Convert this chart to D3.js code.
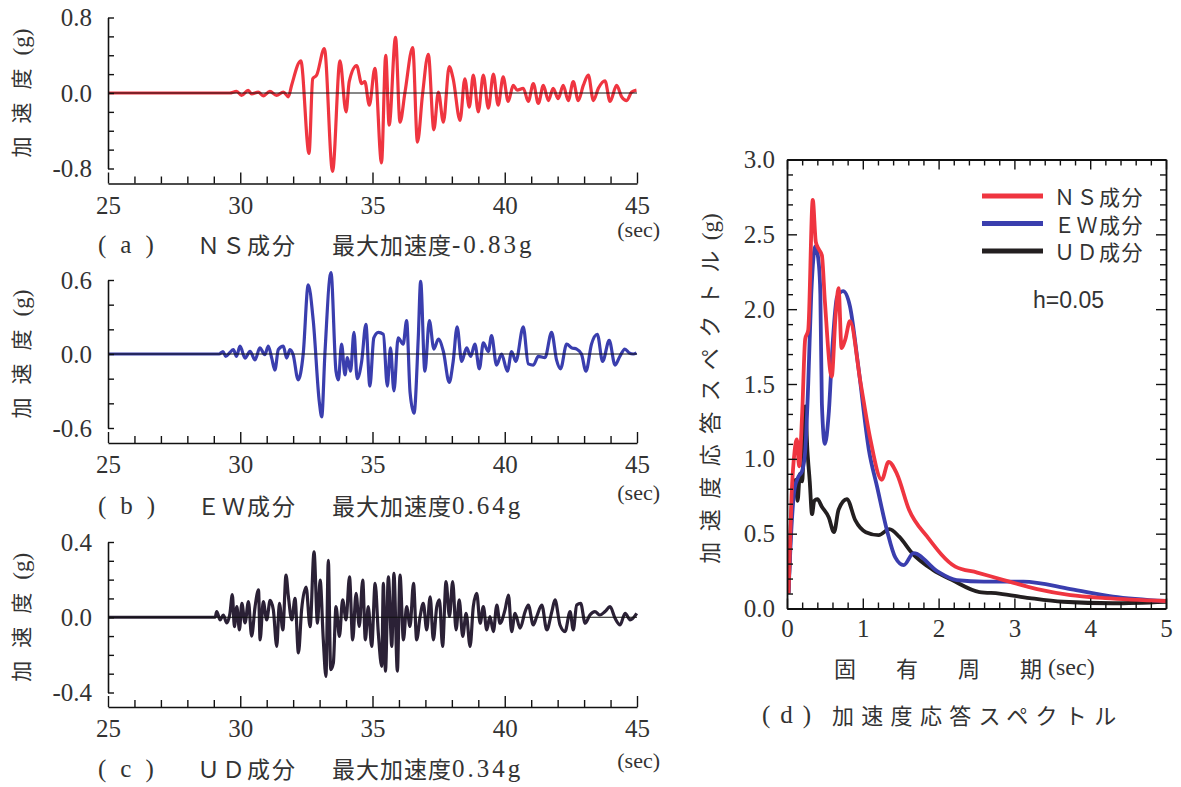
<!DOCTYPE html>
<html><head><meta charset="utf-8">
<script src="https://cdn.jsdelivr.net/npm/d3@7"></script>
<style>body{margin:0;background:#fff}svg{display:block}</style>
</head><body><svg id="c" width="1181" height="787"></svg>
<script>
// ---------- DATA ----------
const timeTicks = [25, 30, 35, 40, 45];
const nsT = [25,29.6,29.86,30.05,30.30,30.43,30.68,30.87,31.12,31.37,31.63,31.82,31.94,32.29,32.60,32.74,32.89,33.18,33.49,33.77,34.0,34.12,34.40,34.59,34.71,34.88,35.09,35.34,35.50,35.63,35.87,36.04,36.23,36.52,36.70,36.89,37.11,37.32,37.49,37.68,37.90,38.05,38.31,38.49,38.66,38.81,39.0,39.19,39.38,39.57,39.75,39.94,40.13,40.32,40.47,40.70,40.89,41.08,41.27,41.46,41.65,41.83,42.02,42.21,42.40,42.59,42.78,42.97,43.16,43.35,43.54,43.79,43.98,44.23,44.42,44.61,44.80,44.98];
const nsA = [0,0,0.018,-0.025,0.028,-0.01,0.01,-0.03,0.018,-0.025,0.01,-0.04,0.08,0.34,-0.64,0.15,0.19,0.47,-0.83,0.34,-0.20,0.12,0.29,0.10,0.12,-0.13,0.26,-0.74,0.40,-0.34,0.59,-0.31,0.01,0.48,-0.52,-0.02,0.41,-0.39,0.01,-0.31,0.28,0.15,-0.29,0.15,-0.15,0.19,-0.2,0.19,-0.16,0.2,-0.13,0.17,-0.09,0.08,0.03,0.05,-0.09,0.1,-0.11,0.08,-0.08,0.05,-0.06,0.08,-0.08,0.12,-0.08,0.08,0.19,-0.08,0.05,0.13,-0.09,0.08,-0.04,-0.08,0.01,0.03];

const ewT = [25,29.2,29.35,29.45,29.6,29.74,29.86,29.99,30.18,30.37,30.56,30.74,30.93,31.06,31.19,31.31,31.44,31.63,31.75,31.88,32.0,32.19,32.38,32.57,32.76,32.99,33.08,33.2,33.43,33.62,33.71,33.83,33.96,34.05,34.17,34.3,34.42,34.59,34.75,34.9,35.05,35.22,35.41,35.56,35.68,35.81,35.97,36.16,36.29,36.42,36.57,36.73,36.82,36.98,37.15,37.32,37.49,37.68,37.9,38.05,38.2,38.37,38.56,38.71,38.87,39.04,39.19,39.38,39.5,39.69,39.88,40.1,40.26,40.42,40.7,40.89,41.08,41.27,41.52,41.77,41.96,42.11,42.34,42.53,42.72,42.9,43.07,43.28,43.5,43.7,43.95,44.17,44.35,44.54,44.7,44.86,44.98];
const ewA = [0,0,0.02,-0.02,0.01,0.036,-0.019,0.064,-0.033,0.022,-0.047,0.05,-0.006,0.064,-0.033,-0.13,0.036,0.064,-0.033,0.036,-0.006,-0.21,0,0.56,0.27,-0.39,-0.51,0,0.66,-0.14,-0.21,0.08,-0.17,-0.03,-0.14,0.175,-0.2,-0.06,0.24,-0.26,0.13,0.175,0.16,-0.26,0.05,-0.30,0.13,0.08,0.27,-0.31,-0.48,0.13,0.59,-0.14,0.27,0.04,0.12,0.02,-0.23,-0.06,0.22,-0.06,0.05,-0.02,0.08,-0.12,0.09,0.02,0.15,-0.09,0,-0.14,0.02,-0.06,0.22,-0.08,-0.09,-0.02,-0.03,0.175,-0.05,-0.12,0.08,0.05,0.04,0,-0.14,0.08,0.16,-0.06,0.11,-0.09,-0.02,0.04,0.01,0,0.01];

const udT = [25,29.05,29.11,29.24,29.36,29.49,29.61,29.70,29.78,29.87,29.97,30.06,30.18,30.31,30.43,30.56,30.69,30.75,30.87,31.0,31.13,31.25,31.38,31.48,31.61,31.73,31.82,31.95,32.07,32.20,32.32,32.49,32.64,32.79,32.92,33.02,33.14,33.24,33.33,33.42,33.52,33.62,33.75,33.87,34.0,34.13,34.25,34.38,34.50,34.63,34.73,34.84,34.97,35.10,35.22,35.35,35.41,35.49,35.60,35.73,35.81,35.94,36.04,36.17,36.29,36.42,36.55,36.67,36.80,36.92,37.05,37.18,37.30,37.43,37.53,37.65,37.78,37.91,38.03,38.16,38.28,38.41,38.54,38.69,38.81,38.94,39.07,39.19,39.32,39.44,39.57,39.70,39.82,40.01,40.14,40.26,40.39,40.58,40.77,40.89,41.08,41.21,41.40,41.59,41.78,41.90,42.09,42.28,42.47,42.59,42.72,42.87,43.04,43.22,43.41,43.60,43.79,43.98,44.17,44.36,44.55,44.74,44.99];
const udA = [0,0,0.03,-0.014,0.012,-0.03,0.02,0.12,-0.05,0.056,-0.067,0.074,-0.03,0.083,-0.10,0.056,0.145,-0.12,0.083,-0.014,0.09,0.04,-0.155,0.074,-0.067,0.224,0.11,-0.014,0.10,-0.19,0.04,0.16,-0.05,0.347,-0.032,0.198,-0.12,-0.314,0.303,-0.279,-0.243,0.056,-0.102,0.092,-0.014,0.215,-0.12,0.127,-0.049,0.198,-0.12,0.056,-0.155,0.18,-0.085,-0.261,0.18,-0.287,0.215,-0.155,0.233,-0.287,0.224,-0.12,0.056,-0.049,0.18,-0.12,0.004,0.074,-0.067,0.109,-0.12,0.056,0.092,-0.155,0.189,0.004,0.189,-0.067,0.092,-0.102,0.021,-0.155,0.056,0.127,-0.032,0.056,-0.067,0.004,-0.076,0.065,-0.032,0.039,0.118,-0.076,0.021,-0.058,0.03,0.065,-0.041,0.004,0.065,-0.067,0.03,0.092,-0.041,-0.076,0.03,-0.067,0.065,0.074,-0.032,0.012,0.03,0.012,0.03,0.056,-0.005,-0.041,0.021,-0.014,0.021];

const periodTicks = [0, 1, 2, 3, 4, 5];
const saTicks = [0.0, 0.5, 1.0, 1.5, 2.0, 2.5, 3.0];
const nsPer = [0.02,0.06,0.1,0.13,0.16,0.2,0.24,0.28,0.34,0.38,0.42,0.46,0.5,0.59,0.64,0.68,0.72,0.77,0.83,0.97,1.1,1.25,1.34,1.45,1.61,1.85,2.22,2.51,2.86,3.3,3.74,4.2,5.0];
const nsSa  = [0.1,0.75,1.05,1.13,0.95,1.3,1.8,1.86,2.73,2.45,2.4,2.36,2.05,1.55,1.95,2.14,1.74,1.8,1.92,1.51,1.13,0.86,0.98,0.9,0.66,0.48,0.28,0.24,0.19,0.13,0.09,0.07,0.05];
const ewPer = [0.02,0.06,0.1,0.15,0.2,0.24,0.28,0.32,0.375,0.42,0.44,0.46,0.5,0.55,0.6,0.66,0.74,0.83,0.94,1.08,1.19,1.32,1.43,1.54,1.67,1.98,2.24,2.6,3.12,3.74,4.3,5.0];
const ewSa  = [0.1,0.55,0.8,0.88,0.92,1.05,1.5,2.1,2.42,2.3,2.1,1.37,1.1,1.3,1.75,2.08,2.12,2.02,1.62,1.06,0.81,0.52,0.34,0.29,0.37,0.25,0.19,0.18,0.18,0.13,0.08,0.05];
const udPer = [0.02,0.05,0.08,0.11,0.14,0.17,0.2,0.24,0.27,0.3,0.33,0.36,0.4,0.46,0.55,0.62,0.68,0.79,0.9,1.04,1.21,1.35,1.48,1.65,1.92,2.18,2.54,2.8,3.2,3.64,4.3,5.0];
const udSa  = [0.1,0.55,0.8,0.86,0.72,0.9,0.85,1.35,1.05,0.85,0.63,0.72,0.73,0.68,0.61,0.51,0.66,0.73,0.59,0.51,0.49,0.53,0.48,0.37,0.26,0.19,0.11,0.1,0.07,0.045,0.035,0.045];

const legendNames = ["ＮＳ成分", "ＥＷ成分", "ＵＤ成分"];

// ---------- STYLE ----------
const RED = "#ef3540", BLUE = "#3a3eae", DARK = "#2b2136", BLACK = "#231f20";
const SERIF = "'Liberation Serif', 'DejaVu Serif', serif";
const CJK = "'Noto Sans CJK JP', sans-serif";
const svg = d3.select("#c");
const zip = (a, b) => a.map((v, i) => [v, b[i]]);

// ---------- TIME HISTORY PANELS ----------
const xT = d3.scaleLinear().domain([25, 45]).range([108, 637]);

function timePanel(o) {
  const y = d3.scaleLinear().domain([-o.max, o.max]).range([o.yBot, o.yTop]);
  const g = svg.append("g");
  g.append("path").datum(zip(o.t, o.a))
    .attr("fill", "none").attr("stroke", o.color).attr("stroke-width", 3.2)
    .attr("stroke-linejoin", "round")
    .attr("d", d3.line().curve(d3.curveMonotoneX).x(d => xT(d[0])).y(d => y(d[1])));
  g.append("line").attr("x1", xT(25)).attr("x2", xT(45)).attr("y1", y(0)).attr("y2", y(0))
    .attr("stroke", "#111").attr("stroke-width", 1);
  const ya = g.append("g").attr("transform", `translate(${xT(25)},0)`)
    .call(d3.axisLeft(y).tickValues(d3.range(-o.max, o.max + 1e-9, o.step)).tickSize(-6).tickSizeOuter(0)
      .tickPadding(16).tickFormat(d => (Math.abs(d) < 1e-9 || Math.abs(Math.abs(d) - o.max) < 1e-9) ? (Math.abs(d) < 1e-9 ? "0.0" : (d < 0 ? "-" : "") + d3.format(".1f")(Math.abs(d))) : ""));
  const xa = g.append("g").attr("transform", `translate(0,${o.axisY})`)
    .call(d3.axisBottom(xT).tickValues(d3.range(25, 46, 1)).tickSize(-7).tickSizeOuter(0)
      .tickPadding(12).tickFormat(d => timeTicks.includes(d) ? d : ""));
  xa.selectAll(".tick line").filter(d => timeTicks.includes(d)).attr("y2", -11);
  [ya, xa].forEach(a => {
    a.select(".domain").attr("stroke", "#111").attr("stroke-width", 1.6);
    a.selectAll(".tick line").attr("stroke", "#111").attr("stroke-width", 1.4);
    a.selectAll("text").attr("font-family", SERIF).attr("font-size", 25).attr("fill", "#333");
  });
  xa.selectAll("text").attr("dy", "0.72em");
  const yl = svg.append("text").attr("transform", `translate(29,${(o.yTop + o.yBot) / 2}) rotate(-90)`)
    .attr("text-anchor", "middle").attr("font-family", CJK).attr("font-size", 21).attr("fill", "#333");
  yl.append("tspan").attr("letter-spacing", 13).text("加速度");
  yl.append("tspan").attr("font-family", SERIF).attr("font-size", 23).text("(g)");
  svg.append("text").attr("x", 660).attr("y", o.secY).attr("text-anchor", "end")
    .attr("dominant-baseline", "central").attr("font-family", SERIF).attr("font-size", 22).attr("fill", "#333").text("(sec)");
  const c = svg.append("text").attr("y", o.capY).attr("dominant-baseline", "central")
    .attr("font-family", CJK).attr("font-size", 23).attr("fill", "#333");
  c.append("tspan").attr("x", 98).attr("font-family", SERIF).attr("font-size", 25).attr("letter-spacing", 14).text("(" + o.letter + ")");
  c.append("tspan").attr("x", 197).attr("letter-spacing", 2).text(o.comp);
  c.append("tspan").attr("x", 332).attr("letter-spacing", 1).text("最大加速度");
  c.append("tspan").attr("font-family", SERIF).attr("font-size", 25).attr("letter-spacing", 3).text(o.peak);
}

timePanel({t: nsT, a: nsA, color: RED, max: 0.8, step: 0.2, yTop: 17.5, yBot: 168.5, axisY: 183.5,
  secY: 229, capY: 244, letter: "a", comp: "ＮＳ成分", peak: "-0.83g"});
timePanel({t: ewT, a: ewA, color: BLUE, max: 0.6, step: 0.2, yTop: 280, yBot: 428, axisY: 443,
  secY: 492, capY: 505, letter: "b", comp: "ＥＷ成分", peak: "0.64g"});
timePanel({t: udT, a: udA, color: DARK, max: 0.4, step: 0.1, yTop: 542, yBot: 692.5, axisY: 707,
  secY: 760, capY: 768, letter: "c", comp: "ＵＤ成分", peak: "0.34g"});

// ---------- SPECTRUM PANEL ----------
const L = 787, R = 1166, T = 159.5, B = 608.5;
const xP = d3.scaleLinear().domain([0, 5]).range([L, R]);
const yS = d3.scaleLinear().domain([0, 3]).range([B, T]);
const gd = svg.append("g");
gd.append("clipPath").attr("id", "clipd").append("rect").attr("x", L).attr("y", T).attr("width", R - L).attr("height", B - T);
const lineS = d3.line().curve(d3.curveMonotoneX).x(d => xP(d[0])).y(d => yS(d[1]));
[[udPer, udSa, BLACK], [ewPer, ewSa, BLUE], [nsPer, nsSa, RED]].forEach(([p, s, col]) => {
  gd.append("path").datum(zip(p, s)).attr("clip-path", "url(#clipd)")
    .attr("fill", "none").attr("stroke", col).attr("stroke-width", 3.8).attr("stroke-linejoin", "round").attr("d", lineS);
});
const xtv = d3.range(0, 5.0001, 0.2).map(v => +v.toFixed(1));
const ytv = d3.range(0, 3.0001, 0.1).map(v => +v.toFixed(1));
const isInt = d => Math.abs(d - Math.round(d)) < 1e-6;
const isHalf = d => Math.abs(d * 2 - Math.round(d * 2)) < 1e-6;
const axB = gd.append("g").attr("transform", `translate(0,${B})`)
  .call(d3.axisBottom(xP).tickValues(xtv).tickSize(-6).tickSizeOuter(0).tickPadding(10)
    .tickFormat(d => isInt(d) && periodTicks.includes(Math.round(d)) ? Math.round(d) : ""));
const axT = gd.append("g").attr("transform", `translate(0,${T})`)
  .call(d3.axisTop(xP).tickValues(xtv).tickSize(-6).tickSizeOuter(0).tickFormat(""));
const axL = gd.append("g").attr("transform", `translate(${L},0)`)
  .call(d3.axisLeft(yS).tickValues(ytv).tickSize(-6).tickSizeOuter(0).tickPadding(12)
    .tickFormat(d => isHalf(d) && saTicks.includes(d) ? d3.format(".1f")(d) : ""));
const axR = gd.append("g").attr("transform", `translate(${R},0)`)
  .call(d3.axisRight(yS).tickValues(ytv).tickSize(-6).tickSizeOuter(0).tickFormat(""));
axB.selectAll(".tick line").filter(isInt).attr("y2", -10);
axT.selectAll(".tick line").filter(isInt).attr("y2", 10);
axL.selectAll(".tick line").filter(isHalf).attr("x2", 10);
axR.selectAll(".tick line").filter(isHalf).attr("x2", -10);
[axB, axT, axL, axR].forEach(a => {
  a.select(".domain").attr("stroke", "#111").attr("stroke-width", 1.8);
  a.selectAll(".tick line").attr("stroke", "#111").attr("stroke-width", 1.4);
  a.selectAll("text").attr("font-family", SERIF).attr("font-size", 25).attr("fill", "#333");
});
axB.selectAll("text").attr("dy", "0.72em");

const legCols = [RED, BLUE, BLACK];
legendNames.forEach((n, i) => {
  const ly = 196 + i * 27.5;
  gd.append("line").attr("x1", 982).attr("x2", 1043).attr("y1", ly).attr("y2", ly)
    .attr("stroke", legCols[i]).attr("stroke-width", 5);
  gd.append("text").attr("x", 1054).attr("y", ly).attr("dominant-baseline", "central")
    .attr("font-family", CJK).attr("font-size", 21).attr("letter-spacing", 1.5).attr("fill", "#333").text(n);
});
gd.append("text").attr("x", 1033).attr("y", 300).attr("dominant-baseline", "central")
  .attr("font-family", "'Liberation Sans', Arial, sans-serif").attr("font-size", 23).attr("fill", "#333").text("h=0.05");

const ydl = svg.append("text").attr("transform", `translate(718,${(207 + 570) / 2}) rotate(-90)`)
  .attr("text-anchor", "middle").attr("font-family", CJK).attr("font-size", 22).attr("fill", "#333");
ydl.append("tspan").attr("letter-spacing", 10.5).text("加速度応答スペクトル");
ydl.append("tspan").attr("font-family", SERIF).attr("font-size", 23).text("(g)");

const xdl = svg.append("text").attr("x", 834).attr("y", 667).attr("dominant-baseline", "central")
  .attr("font-family", CJK).attr("font-size", 22).attr("fill", "#333");
xdl.append("tspan").attr("letter-spacing", 40).text("固有周");
xdl.append("tspan").text("期");
xdl.append("tspan").attr("font-family", SERIF).attr("font-size", 24).attr("dx", 6).text("(sec)");

const cd = svg.append("text").attr("x", 762).attr("y", 714).attr("dominant-baseline", "central")
  .attr("font-family", CJK).attr("font-size", 22).attr("fill", "#333");
cd.append("tspan").attr("font-family", SERIF).attr("font-size", 25).attr("letter-spacing", 10).text("(d)");
cd.append("tspan").attr("x", 832).attr("letter-spacing", 7.3).text("加速度応答スペクトル");
</script></body></html>
